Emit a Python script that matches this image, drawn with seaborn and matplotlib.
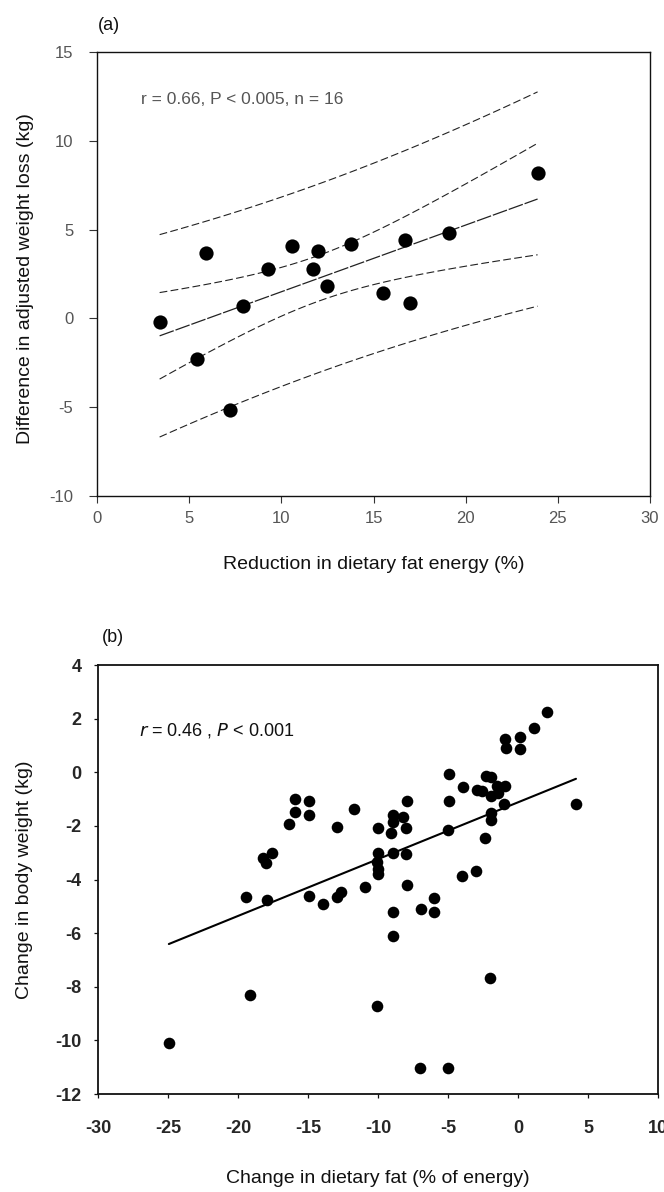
import numpy as np
import pandas as pd
import matplotlib
matplotlib.use("Agg")
import matplotlib.pyplot as plt
import seaborn as sns

sns.set_theme(style="white")
plt.rcParams['font.family'] = ['Liberation Sans', 'DejaVu Sans']
plt.rcParams['axes.unicode_minus'] = False

# ---------------- Panel (a) data ----------------
fat_reduction = [3.4, 5.9, 9.3, 7.9, 10.6, 12.0, 11.7, 12.5, 13.8, 15.5, 16.7, 17.0, 19.1, 23.9, 5.4, 7.2]
weight_diff = [-0.2, 3.7, 2.8, 0.7, 4.1, 3.8, 2.8, 1.8, 4.2, 1.45, 4.4, 0.85, 4.8, 8.2, -2.3, -5.15]

# ---------------- Panel (b) data ----------------
fat_change = [-19.4, -17.9, -18.25, -18.0, -17.6, -16.35, -15.95, -15.95, -14.9, -14.9,
              -14.9, -13.95, -12.9, -12.9, -12.65, -11.75, -10.9, -10.0, -10.0, -10.06,
              -10.0, -10.0, -8.96, -8.96, -9.05, -8.96, -8.96, -8.96, -8.2, -7.97,
              -7.9, -7.97, -7.9, -6.96, -5.98, -5.98, -4.9, -4.9, -4.97, -3.93,
              -4.0, -2.98, -2.9, -2.36, -2.3, -1.9, -2.6, -1.93, -1.9, -1.93,
              -1.5, -0.9, -0.98, -1.44, -0.9, -0.86, 0.15, 0.15, 1.17, 2.09,
              4.14, -24.94, -19.17, -10.06, -7.0, -5.0, -2.0]
weight_change = [-4.65, -4.75, -3.2, -3.4, -3.0, -1.94, -1.5, -1.0, -1.06, -1.6,
                 -4.6, -4.9, -2.05, -4.65, -4.46, -1.36, -4.28, -2.09, -3.0, -3.34,
                 -3.6, -3.78, -1.59, -1.84, -2.28, -3.02, -5.2, -6.1, -1.65, -2.09,
                 -1.09, -3.05, -4.2, -5.09, -4.68, -5.2, -0.05, -1.06, -2.15, -0.55,
                 -3.88, -3.68, -0.68, -2.46, -0.15, -0.18, -0.71, -0.9, -1.53, -1.78,
                 -0.53, -0.53, -1.18, -0.78, 1.23, 0.91, 1.33, 0.85, 1.64, 2.25,
                 -1.19, -10.1, -8.29, -8.73, -11.04, -11.04, -7.66]

a_xticks = [0, 5, 10, 15, 20, 25, 30]
a_yticks = [-10, -5, 0, 5, 10, 15]
b_xticks = [-30, -25, -20, -15, -10, -5, 0, 5, 10]
b_yticks = [-12, -10, -8, -6, -4, -2, 0, 2, 4]

T_CRIT = 2.145  # t(0.975, df=14)

dfa = pd.DataFrame({"x": fat_reduction, "y": weight_diff})
dfb = pd.DataFrame({"x": fat_change, "y": weight_change})

fig = plt.figure(figsize=(6.64, 11.92), dpi=100)
axa = fig.add_axes([0.146, 0.5839, 0.833, 0.3725])
axb = fig.add_axes([0.1476, 0.0822, 0.8434, 0.3599])

# ---- Panel (a) ----
xa = dfa["x"].to_numpy(); ya = dfa["y"].to_numpy()
n = len(xa)
slope, icpt = np.polyfit(xa, ya, 1)
resid = ya - (slope * xa + icpt)
s = np.sqrt(np.sum(resid ** 2) / (n - 2))
xg = np.linspace(xa.min(), xa.max(), 100)
yg = slope * xg + icpt
sxx = np.sum((xa - xa.mean()) ** 2)
se_mean = s * np.sqrt(1 / n + (xg - xa.mean()) ** 2 / sxx)
se_pred = s * np.sqrt(1 + 1 / n + (xg - xa.mean()) ** 2 / sxx)
band = pd.DataFrame({"x": xg, "fit": yg,
                     "ci_lo": yg - T_CRIT * se_mean, "ci_hi": yg + T_CRIT * se_mean,
                     "pi_lo": yg - T_CRIT * se_pred, "pi_hi": yg + T_CRIT * se_pred})

sns.lineplot(data=band, x="x", y="fit", ax=axa, color="#222222", lw=0.9,
             linestyle=(0, (12, 1.5)))
for col in ["ci_lo", "ci_hi", "pi_lo", "pi_hi"]:
    sns.lineplot(data=band, x="x", y=col, ax=axa, color="#222222", lw=0.8,
                 linestyle=(0, (7, 3)))
sns.scatterplot(data=dfa, x="x", y="y", ax=axa, color="black", s=105,
                edgecolor="black", linewidth=0, zorder=5)

axa.set_xlim(0, 30); axa.set_ylim(-10, 15)
axa.set_xticks(a_xticks); axa.set_yticks(a_yticks)
axa.tick_params(axis="both", direction="out", width=0.8,
                labelsize=12, labelcolor="#555555", color="#333333",
                left=True, bottom=True)
axa.tick_params(axis="y", length=6, pad=11)
axa.tick_params(axis="x", length=5, pad=6)
for sp in axa.spines.values():
    sp.set_color("#111111"); sp.set_linewidth(1.0)
axa.set_xlabel("Reduction in dietary fat energy (%)", fontsize=14, color="#111111", va="center")
axa.set_ylabel("Difference in adjusted weight loss (kg)", fontsize=14, color="#111111", va="center")
axa.xaxis.set_label_coords(0.5, -0.155)
axa.yaxis.set_label_coords(-0.130, 0.49)
axa.text(2.4, 12.35, "r = 0.66, P < 0.005, n = 16", fontsize=12.5, color="#555555", va="center")
fig.text(0.148, 0.979, "(a)", fontsize=13, color="#111111", va="center", ha="left")

# ---- Panel (b) ----
sns.regplot(data=dfb, x="x", y="y", ax=axb, ci=None, truncate=True,
            scatter_kws=dict(s=70, color="black", linewidths=0, alpha=1),
            line_kws=dict(color="black", lw=1.5))
axb.set_xlim(-30, 10); axb.set_ylim(-12, 4)
axb.set_xticks(b_xticks); axb.set_yticks(b_yticks)
axb.tick_params(axis="both", direction="out", length=3, width=0.9,
                labelsize=13, color="#111111", left=True, bottom=True)
axb.tick_params(axis="y", pad=9)
axb.tick_params(axis="x", pad=16)
for lab in axb.get_xticklabels() + axb.get_yticklabels():
    lab.set_fontweight("bold")
for sp in axb.spines.values():
    sp.set_color("#111111"); sp.set_linewidth(1.3)
axb.set_xlabel("Change in dietary fat (% of energy)", fontsize=14, color="#111111", va="center")
axb.set_ylabel("Change in body weight (kg)", fontsize=14, color="#111111", va="center")
axb.xaxis.set_label_coords(0.5, -0.196)
axb.yaxis.set_label_coords(-0.132, 0.5)
axb.text(-27.1, 1.54, "$r$ = 0.46 , $P$ < 0.001", fontsize=13, color="#111111", va="center")
fig.text(0.154, 0.4648, "(b)", fontsize=13, color="#111111", va="center", ha="left")

fig.savefig("out.png", dpi=100, facecolor="white")
